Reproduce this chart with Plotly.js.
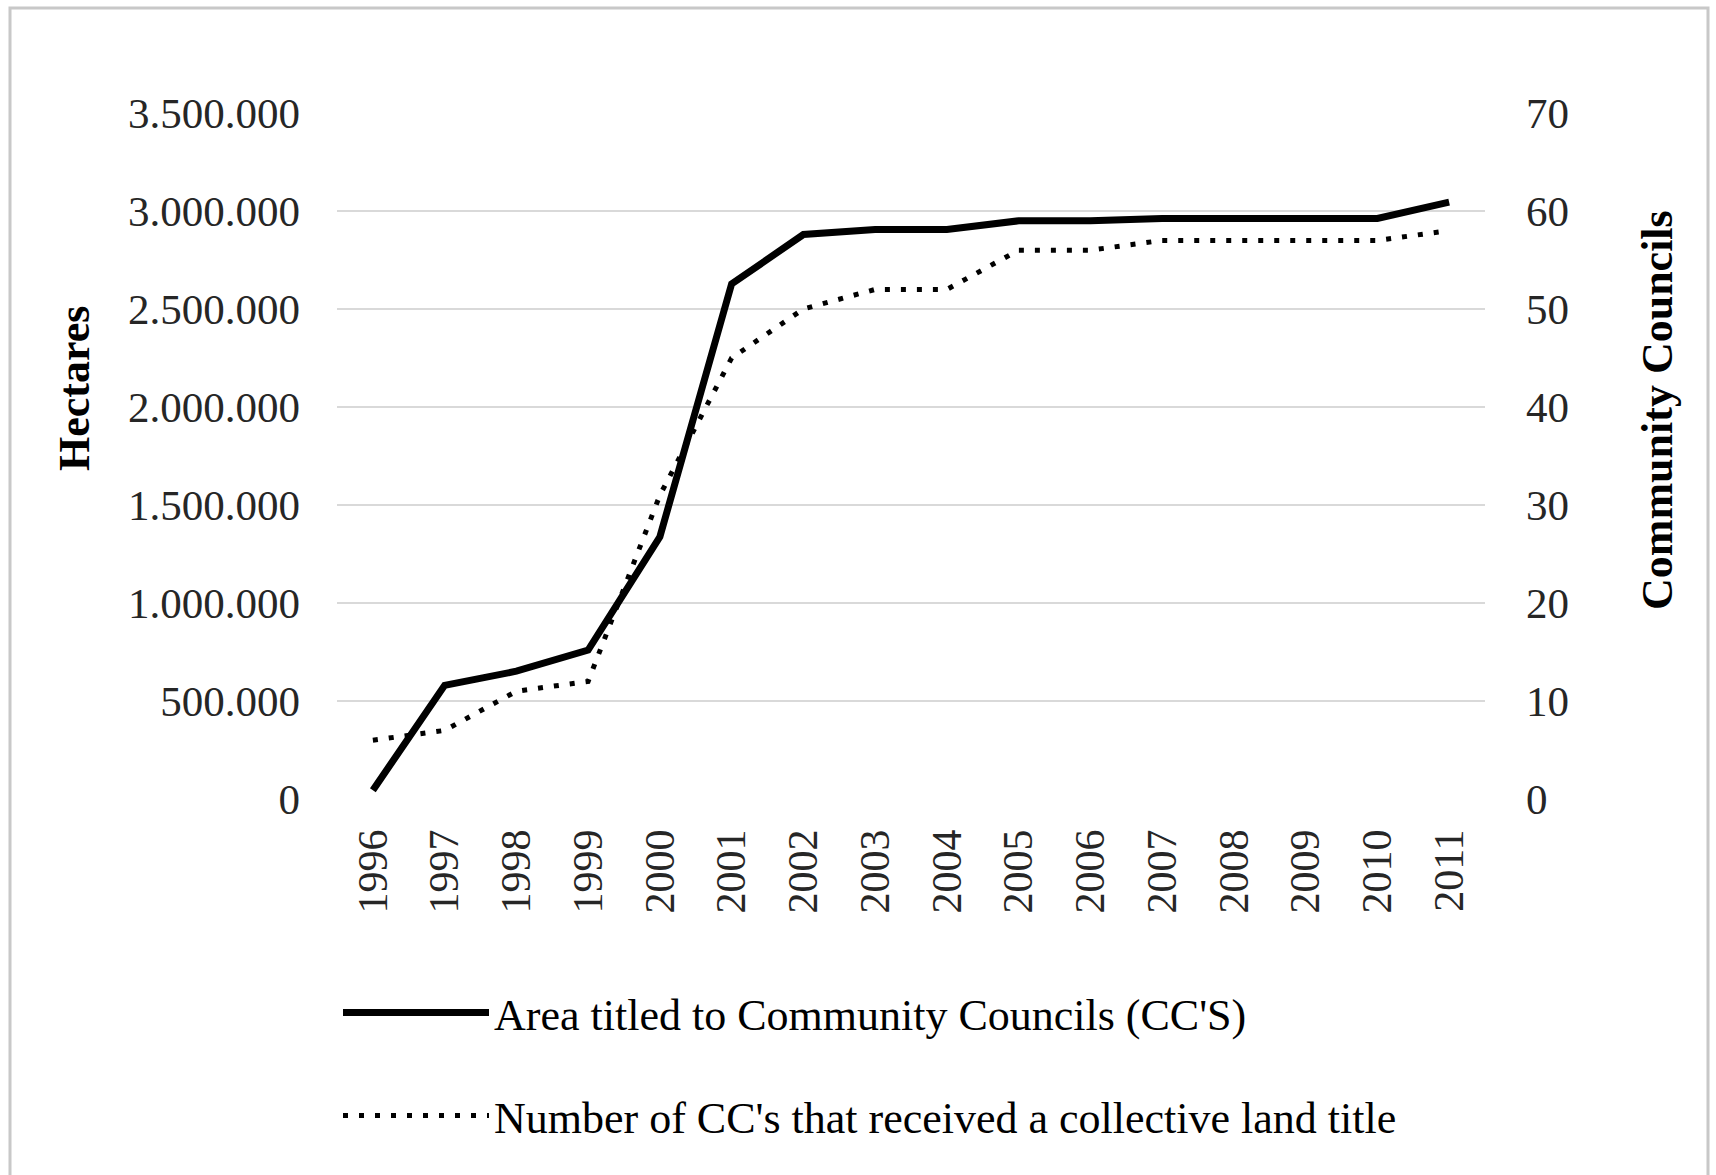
<!DOCTYPE html>
<html>
<head>
<meta charset="utf-8">
<script src="https://cdn.plot.ly/plotly-3.0.1.min.js"></script>
<style>html,body{margin:0;padding:0;background:#fff;}#chart{width:1716px;height:1175px;}</style>
</head>
<body>
<div id="chart"></div>
<script>
const years = ["1996","1997","1998","1999","2000","2001","2002","2003","2004","2005","2006","2007","2008","2009","2010","2011"];
const areaHectares = [45000, 580000, 652000, 760000, 1338000, 2628000, 2880000, 2906000, 2906000, 2950000, 2950000, 2962000, 2962000, 2962000, 2962000, 3045000];
const councilCount = [6, 7, 11, 12, 31, 45, 50, 52, 52, 56, 56, 57, 57, 57, 57, 58];
const areaName = "Area titled to Community Councils (CC'S)";
const countName = "Number of CC's that received a collective land title";
const leftTitle = "Hectares";
const rightTitle = "Community Councils";

const serif = "Liberation Serif, Times New Roman, serif";
const W = 1716, H = 1175;
const L = 337, R = 1485, T = 113, B = 799;
const px = x => (x - L) / (R - L);
const py = y => (B - y) / (B - T);

const traces = [
  {
    x: years, y: areaHectares, name: areaName, type: "scatter", mode: "lines",
    line: {color: "#000000", width: 7}, yaxis: "y", legend: "legend"
  },
  {
    x: years, y: councilCount, name: countName, type: "scatter", mode: "lines",
    line: {color: "#000000", width: 5, dash: "5px,11px"}, yaxis: "y2", legend: "legend2"
  }
];

const layout = {
  width: W, height: H,
  paper_bgcolor: "#ffffff", plot_bgcolor: "#ffffff",
  margin: {l: L, r: W - R, t: T, b: H - B, pad: 0},
  separators: ",.",
  font: {family: serif, color: "#262626", size: 43},
  showlegend: true,
  xaxis: {
    type: "category", range: [-0.5, years.length - 0.5], tickangle: -90, ticks: "",
    showgrid: false, showline: false, zeroline: false,
    tickfont: {family: serif, size: 42, color: "#262626"},
    ticklabelstandoff: 21, fixedrange: true
  },
  yaxis: {
    range: [0, 3500000], dtick: 500000, tickformat: ",d", ticks: "",
    showgrid: true, gridcolor: "#d9d9d9", gridwidth: 2, zeroline: false, showline: false,
    tickfont: {family: serif, size: 43, color: "#262626"}, ticklabelstandoff: 36
  },
  yaxis2: {
    range: [0, 70], dtick: 10, overlaying: "y", side: "right", ticks: "",
    showgrid: false, zeroline: false, showline: false,
    tickfont: {family: serif, size: 43, color: "#262626"}, ticklabelstandoff: 40
  },
  legend: {
    x: px(338), y: py(1013), xanchor: "left", yanchor: "middle",
    font: {family: serif, size: 44, color: "#000000"}, itemwidth: 146,
    bgcolor: "rgba(0,0,0,0)", borderwidth: 0
  },
  legend2: {
    x: px(338), y: py(1116), xanchor: "left", yanchor: "middle",
    font: {family: serif, size: 44, color: "#000000"}, itemwidth: 146,
    bgcolor: "rgba(0,0,0,0)", borderwidth: 0
  },
  annotations: [
    {text: "<b>" + leftTitle + "</b>", xref: "paper", yref: "paper", x: px(74), y: py(389),
     xanchor: "center", yanchor: "middle",
     textangle: -90, showarrow: false, font: {family: serif, size: 44, color: "#000000"}},
    {text: "<b>" + rightTitle + "</b>", xref: "paper", yref: "paper", x: px(1658), y: py(410),
     xanchor: "center", yanchor: "middle",
     textangle: -90, showarrow: false, font: {family: serif, size: 44, color: "#000000"}}
  ],
  shapes: [
    {type: "rect", xref: "paper", yref: "paper", x0: px(10), x1: px(1708), y0: py(8), y1: py(1190),
     line: {color: "#c8c8c8", width: 3}, fillcolor: "rgba(0,0,0,0)", layer: "below"}
  ]
};

Plotly.newPlot("chart", traces, layout, {displayModeBar: false, staticPlot: true});
</script>
</body>
</html>
